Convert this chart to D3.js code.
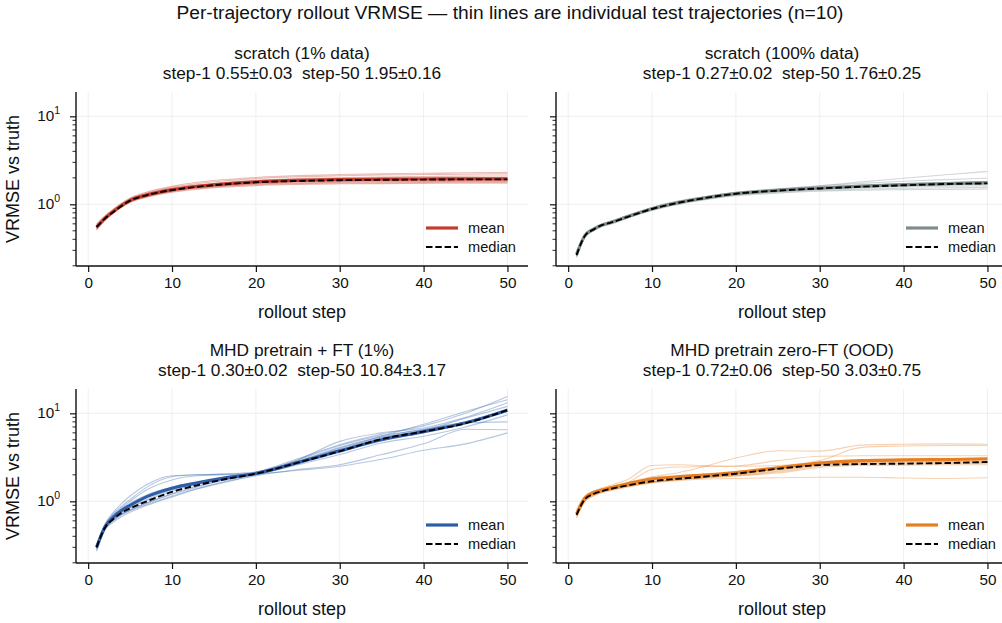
<!DOCTYPE html>
<html>
<head>
<meta charset="utf-8">
<script src="https://cdn.jsdelivr.net/npm/d3@7"></script>
<style>
  body { margin: 0; background: #fff; }
  text { font-family: "Liberation Sans", Arial, sans-serif; fill: #111; white-space: pre; }
</style>
</head>
<body>
<div id="chart"></div>
<script>
const steps = [1, 2, 3, 4, 5, 7, 10, 13, 16, 20, 25, 30, 35, 40, 45, 50];

const panelNames = ["scratch (1% data)", "scratch (100% data)", "MHD pretrain + FT (1%)", "MHD pretrain zero-FT (OOD)"];
const panelStats = ["step-1 0.55\u00b10.03  step-50 1.95\u00b10.16", "step-1 0.27\u00b10.02  step-50 1.76\u00b10.25",
                    "step-1 0.30\u00b10.02  step-50 10.84\u00b13.17", "step-1 0.72\u00b10.06  step-50 3.03\u00b10.75"];
const panelColors = ["#c63b2c", "#7f8c8d", "#2f5ea8", "#e67e22"];
const yTicks = [1, 10];
const xTicks = [0, 10, 20, 30, 40, 50];

// scratch (1% data)
const scratch1Traj = [
  [0.58,0.73,0.88,1.03,1.18,1.38,1.60,1.78,1.90,2.02,2.12,2.18,2.22,2.25,2.28,2.30],
  [0.60,0.74,0.87,1.02,1.16,1.35,1.56,1.72,1.84,1.96,2.05,2.11,2.15,2.18,2.20,2.22],
  [0.56,0.71,0.85,1.00,1.14,1.32,1.52,1.66,1.77,1.88,1.96,2.01,2.04,2.07,2.09,2.10],
  [0.54,0.69,0.83,0.98,1.12,1.29,1.49,1.62,1.72,1.82,1.90,1.95,1.98,2.00,2.01,2.02],
  [0.55,0.70,0.83,0.97,1.11,1.28,1.47,1.60,1.70,1.79,1.86,1.90,1.92,1.94,1.95,1.95],
  [0.53,0.68,0.81,0.95,1.09,1.25,1.44,1.57,1.67,1.76,1.82,1.86,1.88,1.89,1.90,1.90],
  [0.52,0.67,0.80,0.94,1.07,1.23,1.41,1.54,1.63,1.72,1.78,1.81,1.83,1.84,1.85,1.85],
  [0.56,0.69,0.82,0.95,1.08,1.24,1.41,1.53,1.62,1.70,1.75,1.78,1.80,1.81,1.82,1.82],
  [0.51,0.66,0.79,0.93,1.06,1.22,1.39,1.51,1.60,1.67,1.72,1.75,1.76,1.77,1.78,1.78],
  [0.53,0.67,0.80,0.93,1.05,1.20,1.37,1.48,1.56,1.63,1.68,1.71,1.72,1.73,1.74,1.74]
];
const scratch1Mean   = [0.55,0.69,0.83,0.97,1.11,1.28,1.47,1.60,1.70,1.80,1.87,1.91,1.93,1.94,1.95,1.95];
const scratch1Median = [0.55,0.69,0.82,0.96,1.10,1.27,1.45,1.58,1.68,1.78,1.84,1.88,1.90,1.91,1.92,1.92];

// scratch (100% data)
const scratch100Traj = [
  [0.27,0.45,0.53,0.59,0.63,0.74,0.92,1.08,1.21,1.37,1.49,1.62,1.80,1.98,2.17,2.36],
  [0.28,0.46,0.54,0.60,0.64,0.74,0.92,1.08,1.21,1.37,1.50,1.62,1.73,1.83,1.91,1.98],
  [0.26,0.44,0.52,0.58,0.62,0.72,0.90,1.05,1.19,1.35,1.47,1.56,1.64,1.71,1.76,1.80],
  [0.29,0.45,0.52,0.58,0.62,0.72,0.89,1.04,1.17,1.33,1.45,1.54,1.62,1.68,1.73,1.76],
  [0.25,0.43,0.51,0.57,0.61,0.71,0.88,1.03,1.16,1.32,1.43,1.52,1.59,1.65,1.70,1.73],
  [0.27,0.44,0.51,0.58,0.62,0.72,0.89,1.04,1.17,1.32,1.43,1.51,1.58,1.63,1.67,1.70],
  [0.26,0.43,0.50,0.56,0.60,0.70,0.87,1.02,1.15,1.31,1.42,1.50,1.57,1.62,1.66,1.68],
  [0.28,0.45,0.52,0.57,0.61,0.71,0.88,1.03,1.16,1.30,1.40,1.48,1.54,1.58,1.61,1.62],
  [0.25,0.42,0.50,0.56,0.60,0.70,0.87,1.01,1.13,1.27,1.37,1.44,1.49,1.52,1.54,1.55],
  [0.26,0.43,0.50,0.56,0.59,0.69,0.85,0.99,1.11,1.25,1.34,1.41,1.45,1.47,1.48,1.49]
];
const scratch100Mean   = [0.27,0.44,0.52,0.58,0.62,0.72,0.89,1.04,1.17,1.32,1.44,1.53,1.61,1.67,1.72,1.76];
const scratch100Median = [0.265,0.44,0.515,0.58,0.615,0.715,0.885,1.035,1.165,1.32,1.43,1.515,1.585,1.645,1.70,1.73];

// MHD pretrain + FT (1%)
const finetuneTraj = [
  [0.29,0.52,0.68,0.82,0.95,1.18,1.45,1.65,1.85,2.15,3.05,4.40,5.80,7.20,10.0,15.5],
  [0.31,0.55,0.75,0.95,1.15,1.55,1.95,2.00,2.05,2.15,2.85,4.00,5.50,7.50,10.5,14.3],
  [0.30,0.50,0.62,0.72,0.80,0.96,1.22,1.48,1.74,2.05,2.95,4.80,6.00,6.80,9.00,13.2],
  [0.28,0.48,0.60,0.70,0.78,0.92,1.15,1.40,1.65,2.00,2.75,3.90,5.30,6.40,8.80,12.0],
  [0.30,0.54,0.72,0.88,1.05,1.45,1.90,2.00,2.02,2.08,2.70,3.60,5.00,6.00,7.90,11.2],
  [0.32,0.50,0.64,0.75,0.85,1.05,1.35,1.60,1.85,2.10,2.95,4.30,5.60,6.50,7.80,10.5],
  [0.29,0.49,0.61,0.71,0.79,0.95,1.20,1.45,1.72,2.02,2.60,3.40,4.60,5.50,7.00,9.6],
  [0.30,0.50,0.63,0.74,0.84,1.02,1.30,1.55,1.80,2.08,2.85,4.10,5.40,6.60,7.80,8.0],
  [0.27,0.47,0.58,0.67,0.75,0.90,1.12,1.38,1.62,1.95,2.30,2.60,3.40,4.50,6.60,6.5],
  [0.31,0.53,0.70,0.85,1.00,1.35,1.75,1.95,2.00,2.05,2.25,2.50,3.00,3.80,4.50,6.0]
];
const finetuneMean   = [0.30,0.51,0.66,0.79,0.90,1.13,1.41,1.62,1.82,2.07,2.75,3.75,5.00,6.20,7.80,10.84];
const finetuneMedian = [0.30,0.50,0.63,0.74,0.83,1.00,1.28,1.52,1.76,2.06,2.75,3.70,5.10,6.20,7.70,10.9];

// MHD pretrain zero-FT (OOD)
const zeroShotTraj = [
  [0.72,1.08,1.25,1.36,1.45,1.62,1.90,2.10,2.45,3.10,3.75,3.72,4.35,4.45,4.50,4.45],
  [0.74,1.12,1.30,1.42,1.52,1.75,2.55,2.60,2.55,2.50,2.55,2.90,4.10,4.25,4.30,4.30],
  [0.70,1.05,1.22,1.33,1.42,1.62,2.30,2.45,2.48,2.52,2.90,3.25,3.30,3.30,3.30,3.30],
  [0.68,1.02,1.18,1.28,1.35,1.48,1.65,1.78,1.88,2.02,2.35,2.80,2.95,3.00,3.00,3.00],
  [0.80,1.15,1.30,1.38,1.45,1.58,1.75,1.85,1.95,2.10,2.38,2.70,2.80,2.82,2.84,2.85],
  [0.66,1.00,1.16,1.26,1.34,1.47,1.64,1.76,1.86,2.00,2.25,2.62,2.75,2.78,2.80,2.80],
  [0.71,1.06,1.20,1.29,1.36,1.49,1.67,1.77,1.86,1.98,2.20,2.55,2.68,2.72,2.74,2.75],
  [0.69,1.04,1.19,1.28,1.35,1.48,1.66,1.75,1.83,1.94,2.15,2.50,2.63,2.66,2.68,2.70],
  [0.73,1.07,1.23,1.31,1.38,1.50,1.68,1.78,1.85,1.95,2.10,2.42,2.55,2.58,2.60,2.60],
  [0.65,1.00,1.15,1.25,1.32,1.45,1.62,1.72,1.78,1.82,1.85,1.88,1.88,1.84,1.82,1.85]
];
const zeroShotMean   = [0.72,1.09,1.25,1.34,1.42,1.57,1.80,1.90,1.98,2.12,2.40,2.72,2.90,2.95,2.98,3.03];
const zeroShotMedian = [0.70,1.06,1.21,1.30,1.38,1.51,1.69,1.80,1.90,2.06,2.34,2.58,2.65,2.68,2.72,2.80];

const trajSets   = [scratch1Traj, scratch100Traj, finetuneTraj, zeroShotTraj];
const meanSets   = [scratch1Mean, scratch100Mean, finetuneMean, zeroShotMean];
const medianSets = [scratch1Median, scratch100Median, finetuneMedian, zeroShotMedian];

const width = 1002;
const height = 623;
const panelW = 452, panelH = 174;
const lefts = [76, 556];
const tops = [92, 389];

const svg = d3.select("#chart")
    .append("svg")
    .attr("width", width)
    .attr("height", height);

svg.append("text")
    .attr("x", 510).attr("y", 19)
    .attr("text-anchor", "middle")
    .attr("font-size", "19.2px")
    .text("Per-trajectory rollout VRMSE \u2014 thin lines are individual test trajectories (n=10)");

const x = d3.scaleLinear().domain([-1.45, 52.45]).range([0, panelW]);
const y = d3.scaleLog().domain([0.199, 18.9]).range([panelH, 0]);

// minor log ticks
const minorTicks = [];
[0.1, 1, 10].forEach(dec => {
  for (let k = 2; k <= 9; k++) {
    const v = dec * k;
    if (v >= y.domain()[0] && v <= y.domain()[1]) minorTicks.push(v);
  }
});

const line = d3.line()
    .x(d => x(d[0]))
    .y(d => y(d[1]))
    .curve(d3.curveMonotoneX);

const pairs = vals => steps.map((s, i) => [s, vals[i]]);

for (let p = 0; p < 4; p++) {
  const col = p % 2, row = Math.floor(p / 2);
  const g = svg.append("g").attr("transform", `translate(${lefts[col]},${tops[row]})`);
  const color = panelColors[p];

  // grid
  g.append("g").selectAll("line").data(xTicks).enter().append("line")
      .attr("x1", d => x(d)).attr("x2", d => x(d))
      .attr("y1", 0).attr("y2", panelH)
      .attr("stroke", "#ebebeb").attr("stroke-width", 0.8);
  g.append("g").selectAll("line").data(yTicks).enter().append("line")
      .attr("x1", 0).attr("x2", panelW)
      .attr("y1", d => y(d)).attr("y2", d => y(d))
      .attr("stroke", "#ebebeb").attr("stroke-width", 0.8);

  // individual trajectories
  g.append("g").selectAll("path").data(trajSets[p]).enter().append("path")
      .attr("d", d => line(pairs(d)))
      .attr("fill", "none")
      .attr("stroke", color)
      .attr("stroke-opacity", 0.35)
      .attr("stroke-width", 1.1);

  g.append("path")
      .attr("d", line(pairs(meanSets[p])))
      .attr("fill", "none").attr("stroke", color).attr("stroke-width", 3.2);

  g.append("path")
      .attr("d", line(pairs(medianSets[p])))
      .attr("fill", "none").attr("stroke", "#000").attr("stroke-width", 1.9)
      .attr("stroke-dasharray", "6.5,2.8");

  // axes
  const xAxis = g.append("g")
      .attr("transform", `translate(0,${panelH})`)
      .call(d3.axisBottom(x).tickValues(xTicks).tickSize(6).tickPadding(5));
  xAxis.selectAll("text").attr("font-size", "15.3px").attr("fill", "#111")
      .attr("font-family", "Liberation Sans, Arial, sans-serif");

  const yAxis = g.append("g")
      .call(d3.axisLeft(y).tickValues(yTicks).tickSize(6).tickFormat(""));
  yAxis.append("g").selectAll("line").data(minorTicks).enter().append("line")
      .attr("x1", -3.5).attr("x2", 0)
      .attr("y1", d => y(d)).attr("y2", d => y(d))
      .attr("stroke", "#111").attr("stroke-width", 0.9);

  [xAxis, yAxis].forEach(a => {
    a.select(".domain").attr("stroke", "#111").attr("stroke-width", 1.4);
    a.selectAll(".tick line").attr("stroke", "#111").attr("stroke-width", 1.2);
  });
  xAxis.select(".domain").attr("d", `M0,0H${panelW}`);
  yAxis.select(".domain").attr("d", `M0,0V${panelH}`);

  if (col === 0) {
    const lbl = g.append("g").selectAll("text").data(yTicks).enter().append("text")
        .attr("x", -16).attr("y", d => y(d) + 5)
        .attr("text-anchor", "end")
        .attr("font-size", "15.3px");
    lbl.append("tspan").text("10");
    lbl.append("tspan").attr("dy", -7).attr("font-size", "10.5px").text(d => Math.round(Math.log10(d)));

    g.append("text")
        .attr("transform", `translate(-57,${panelH / 2}) rotate(-90)`)
        .attr("text-anchor", "middle")
        .attr("font-size", "18px")
        .text("VRMSE vs truth");
  }

  g.append("text")
      .attr("x", panelW / 2).attr("y", panelH + 52)
      .attr("text-anchor", "middle")
      .attr("font-size", "18px")
      .text("rollout step");

  // titles
  g.append("text")
      .attr("x", panelW / 2).attr("y", -33)
      .attr("text-anchor", "middle")
      .attr("font-size", "17.3px")
      .text(panelNames[p]);
  g.append("text")
      .attr("x", panelW / 2).attr("y", -13)
      .attr("text-anchor", "middle")
      .attr("font-size", "17.3px")
      .text(panelStats[p]);

  // legend
  const leg = g.append("g").attr("transform", `translate(${panelW - 102},${panelH - 38})`);
  leg.append("line").attr("x1", 0).attr("x2", 32).attr("y1", 0).attr("y2", 0)
      .attr("stroke", color).attr("stroke-width", 3.2);
  leg.append("text").attr("x", 42).attr("y", 5).attr("font-size", "14.6px").text("mean");
  leg.append("line").attr("x1", 0).attr("x2", 32).attr("y1", 19).attr("y2", 19)
      .attr("stroke", "#000").attr("stroke-width", 1.9).attr("stroke-dasharray", "6.5,2.8");
  leg.append("text").attr("x", 42).attr("y", 24).attr("font-size", "14.6px").text("median");
}
</script>
</body>
</html>
